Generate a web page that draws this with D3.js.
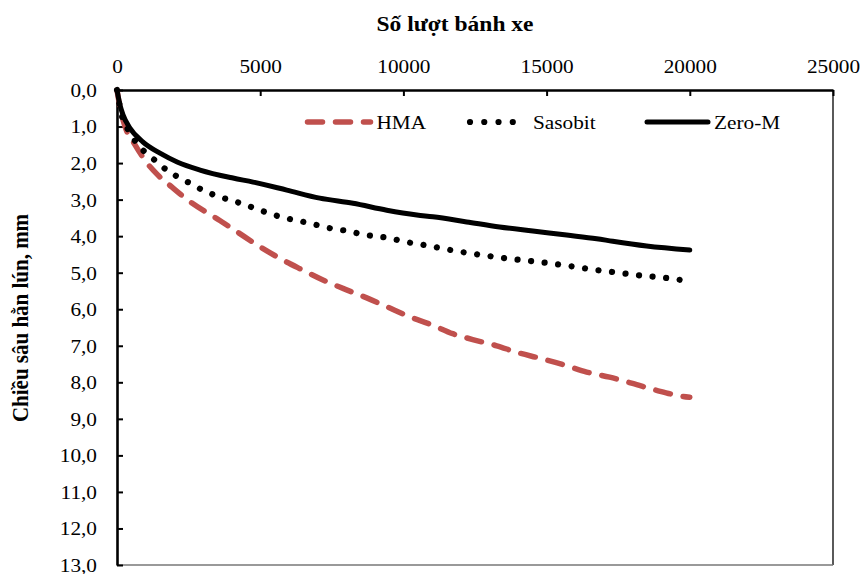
<!DOCTYPE html>
<html>
<head>
<meta charset="utf-8">
<script src="https://cdn.jsdelivr.net/npm/d3@7"></script>
<style>
  body { margin: 0; background: #fff; }
  svg { display: block; }
  svg text { font-family: "Liberation Serif", "DejaVu Serif", serif !important; fill: #000; }
</style>
</head>
<body>
<div id="chart-1"></div>
<script>
// number of wheel passes (x) and rut depth in mm (y)
const hmaCycles = [0, 100, 280, 630, 1050, 1430, 1920, 2500, 3590, 4190, 4990, 5690, 6490, 7190, 7890, 8720, 9420, 10200, 11030, 11720, 12420, 13260, 13960, 14760, 15560, 16400, 17200, 18000, 18840, 19710, 20000]
const hmaDepth = [0, 0.45, 1.0, 1.5, 2.0, 2.33, 2.66, 3.03, 3.57, 3.88, 4.29, 4.61, 4.93, 5.2, 5.43, 5.69, 5.93, 6.2, 6.44, 6.67, 6.83, 7.0, 7.18, 7.34, 7.51, 7.72, 7.86, 8.03, 8.22, 8.38, 8.41]

const sasobitCycles = [0, 100, 210, 450, 700, 1010, 1400, 1780, 2200, 2620, 3070, 3490, 3940, 4400, 4880, 5300, 5750, 6210, 6700, 7150, 7610, 8090, 8550, 9000, 9490, 9980, 10920, 11860, 12770, 13710, 14650, 15560, 16500, 17380, 18320, 19260, 19780]
const sasobitDepth = [0, 0.45, 0.82, 1.15, 1.48, 1.72, 1.97, 2.22, 2.41, 2.58, 2.77, 2.9, 3.01, 3.12, 3.26, 3.37, 3.48, 3.56, 3.64, 3.73, 3.81, 3.86, 3.95, 4.0, 4.05, 4.14, 4.27, 4.41, 4.52, 4.62, 4.7, 4.79, 4.9, 4.99, 5.08, 5.15, 5.21]

const zeroCycles = [0, 100, 210, 450, 900, 1500, 2100, 2900, 4050, 4750, 5930, 7080, 8240, 9420, 10470, 11030, 12210, 13360, 14520, 15700, 16750, 17310, 18490, 20000]
const zeroDepth = [0, 0.4, 0.68, 1.04, 1.42, 1.73, 1.97, 2.19, 2.41, 2.52, 2.74, 2.96, 3.1, 3.29, 3.42, 3.47, 3.61, 3.75, 3.86, 3.97, 4.07, 4.14, 4.27, 4.38]

const seriesNames = ['HMA', 'Sasobit', 'Zero-M']
const xTicks = [0, 5000, 10000, 15000, 20000, 25000]
const yTicks = [0, 1, 2, 3, 4, 5, 6, 7, 8, 9, 10, 11, 12, 13]

const xTitle = 'Số lượt bánh  xe'
const yTitle = 'Chiều sâu hằn lún, mm'

const serif = '"Liberation Serif", "DejaVu Serif", serif'

const margin = {
  top: 90,
  right: 29,
  bottom: 9,
  left: 117
}

const width = 862 - margin.left - margin.right
const height = 574 - margin.top - margin.bottom

// the picture is stretched a little sideways, so the glyphs are too
const stretch = 1.12

const svg = d3
  .select('#chart-1')
  .append('svg')
  .attr('width', width + margin.left + margin.right)
  .attr('height', height + margin.top + margin.bottom)
  .append('g')
  .attr('transform', `translate(${margin.left}, ${margin.top})`)

const xPositionScale = d3.scaleLinear().domain([0, 25000]).range([0, width])
const yPositionScale = d3.scaleLinear().domain([0, 13]).range([0, height])

// right and bottom frame
svg
  .append('line')
  .attr('x1', xPositionScale(25000))
  .attr('x2', xPositionScale(25000))
  .attr('y1', 0)
  .attr('y2', height)
  .attr('stroke', '#000')
  .attr('stroke-width', 1.3)

svg
  .append('line')
  .attr('x1', 0)
  .attr('x2', width)
  .attr('y1', height)
  .attr('y2', height)
  .attr('stroke', '#777')
  .attr('stroke-width', 1.3)

const xAxis = d3
  .axisTop(xPositionScale)
  .tickValues(xTicks)
  .tickSizeInner(-6)
  .tickSizeOuter(0)
  .tickPadding(17)
  .tickFormat(d3.format('d'))

const xg = svg.append('g').attr('class', 'axis x-axis').call(xAxis)

const yAxis = d3
  .axisLeft(yPositionScale)
  .tickValues(yTicks)
  .tickSizeInner(-6)
  .tickSizeOuter(0)
  .tickPadding(20 / stretch)
  .tickFormat(d => d3.format('.1f')(d).replace('.', ','))

const yg = svg.append('g').attr('class', 'axis y-axis').call(yAxis)

svg.selectAll('.axis').attr('font-family', serif)
svg.selectAll('.axis .domain').attr('stroke', '#000').attr('stroke-width', 2.6)
svg.selectAll('.axis .tick line').attr('stroke', '#000').attr('stroke-width', 2)
svg
  .selectAll('.axis text')
  .attr('font-size', 19)
  .attr('fill', '#000')
  .attr('transform', `scale(${stretch},1)`)
yg.selectAll('text').attr('dy', '0.34em')

// lines
const line = d3
  .line()
  .x(d => xPositionScale(d[0]))
  .y(d => yPositionScale(d[1]))
  .curve(d3.curveMonotoneX)

const series = [
  { name: seriesNames[0], data: d3.zip(hmaCycles, hmaDepth), color: '#c0504d', width: 5.5, dash: '15,13' },
  { name: seriesNames[1], data: d3.zip(sasobitCycles, sasobitDepth), color: '#000', width: 6.2, dash: '0.01,13.6' },
  { name: seriesNames[2], data: d3.zip(zeroCycles, zeroDepth), color: '#000', width: 5, dash: null }
]

svg
  .selectAll('.series')
  .data(series)
  .enter()
  .append('path')
  .attr('class', 'series')
  .attr('d', d => line(d.data))
  .attr('fill', 'none')
  .attr('stroke', d => d.color)
  .attr('stroke-width', d => d.width)
  .attr('stroke-dasharray', d => d.dash)
  .attr('stroke-linecap', 'round')
  .attr('stroke-linejoin', 'round')

// legend
const legendX = [307.5, 470, 647]
const legendLen = [63, 57, 61]
const legend = svg
  .selectAll('.legend')
  .data(series)
  .enter()
  .append('g')
  .attr('class', 'legend')
  .attr('transform', (d, i) => `translate(${legendX[i] - margin.left}, ${122 - margin.top})`)

legend
  .append('line')
  .attr('x1', 0)
  .attr('x2', (d, i) => legendLen[i])
  .attr('y1', 0)
  .attr('y2', 0)
  .attr('stroke', d => d.color)
  .attr('stroke-width', d => d.width)
  .attr('stroke-dasharray', (d, i) => (i === 1 ? '0.01,14.25' : d.dash))
  .attr('stroke-linecap', 'round')

legend
  .append('text')
  .attr('transform', (d, i) => `translate(${legendLen[i] + 6}, 7) scale(${stretch},1)`)
  .attr('font-family', serif)
  .attr('font-size', 19)
  .text(d => d.name)

// axis titles
svg
  .append('text')
  .attr('transform', `translate(${455 - margin.left}, ${31 - margin.top}) scale(${stretch},1)`)
  .attr('text-anchor', 'middle')
  .attr('font-family', serif)
  .attr('font-size', 21)
  .attr('font-weight', 'bold')
  .text(xTitle)

svg
  .append('text')
  .attr('transform', `translate(${28 - margin.left}, ${318 - margin.top}) rotate(-90) scale(1,${stretch})`)
  .attr('text-anchor', 'middle')
  .attr('font-family', serif)
  .attr('font-size', 21)
  .attr('font-weight', 'bold')
  .text(yTitle)
</script>
</body>
</html>
